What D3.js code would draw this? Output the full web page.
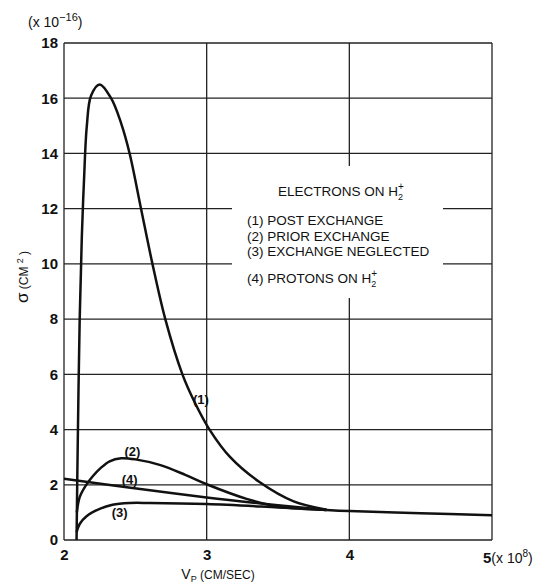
<!DOCTYPE html>
<html>
<head>
<meta charset="utf-8">
<script src="https://cdn.jsdelivr.net/npm/d3@7"></script>
<style>
body { margin:0; background:#fff; }
text { font-family:"Liberation Sans", Arial, sans-serif; fill:#111; }
</style>
</head>
<body>
<div id="chart"></div>
<script>
var width = 536;
var height = 583;

// velocity (x 10^8 cm/sec) and cross section (x 10^-16 cm^2)
var postX  = [2.088,2.095,2.11,2.125,2.14,2.16,2.19,2.25,2.33,2.40,2.46,2.54,2.62,2.71,2.83,2.915,3.02,3.165,3.37,3.61,3.84];
var postY  = [0,3,8,11,13,15,16.1,16.5,16.0,15.1,14,12,10,8,6,5,4,3,2.1,1.40,1.10];
var priorX = [2.09,2.11,2.15,2.20,2.26,2.32,2.40,2.50,2.67,2.85,3.0,3.28,3.51,3.84];
var priorY = [1.0,1.55,1.95,2.3,2.62,2.85,2.96,2.92,2.72,2.36,2.02,1.49,1.20,1.09];
var neglX  = [2.088,2.11,2.16,2.25,2.34,2.46,2.6,3.0,3.5,3.84];
var neglY  = [0.28,0.58,0.87,1.13,1.28,1.34,1.34,1.30,1.18,1.09];
var protX  = [2.0,2.44,3.0,3.5,3.84];
var protY  = [2.22,1.91,1.54,1.26,1.09];
var tailX  = [3.84,4.0,4.5,5.0];
var tailY  = [1.09,1.05,0.97,0.90];

var xTicks = [2,3,4,5];
var yTicks = [0,2,4,6,8,10,12,14,16,18];
var curveLabels = ["(1)","(2)","(3)","(4)"];
var curveLabelX = [2.96,2.48,2.39,2.46];
var curveLabelY = [5.1,3.22,1.01,2.21];
var legendTitle = "ELECTRONS ON H";
var legendLines = ["(1) POST EXCHANGE","(2) PRIOR EXCHANGE","(3) EXCHANGE NEGLECTED"];
var legendLast = "(4) PROTONS ON H";

var svg = d3.select("#chart").append("svg").attr("width",width).attr("height",height);

var x = d3.scaleLinear().domain([2,5]).range([64,492]);
var y = d3.scaleLinear().domain([0,18]).range([540,43]);

// grid
var grid = svg.append("g").attr("stroke","#222").attr("stroke-width",1.3);
grid.selectAll("line.h").data(yTicks).enter().append("line")
	.attr("x1",x(2)).attr("x2",x(5))
	.attr("y1",function(d){return y(d);}).attr("y2",function(d){return y(d);});
grid.selectAll("line.v").data(xTicks).enter().append("line")
	.attr("x1",function(d){return x(d);}).attr("x2",function(d){return x(d);})
	.attr("y1",y(0)).attr("y2",y(18));

// blank the grid behind the legend
svg.append("rect").attr("x",232).attr("y",166).attr("width",211).attr("height",132).attr("fill","#fff");

// tick labels
var yAxis = d3.axisLeft(y).tickValues(yTicks).tickSize(0).tickPadding(6).tickFormat(d3.format("d"));
var gy = svg.append("g").attr("transform","translate("+x(2)+",0)").call(yAxis);
gy.select(".domain").remove();
gy.selectAll("text").attr("font-size",15).attr("font-weight","bold").style("font-family","Liberation Sans");

var xAxis = d3.axisBottom(x).tickValues(xTicks).tickSize(0).tickPadding(9)
	.tickFormat(function(d){ return d==5 ? "" : d; });
var gx = svg.append("g").attr("transform","translate(0,"+y(0)+")").call(xAxis);
gx.select(".domain").remove();
gx.selectAll("text").attr("font-size",15).attr("font-weight","bold").style("font-family","Liberation Sans");

var t5 = svg.append("text").attr("x",x(5)-9).attr("y",563).attr("font-size",14);
t5.append("tspan").attr("font-weight","bold").attr("font-size",15).text("5");
t5.append("tspan").attr("font-size",14).text("(x 10");
t5.append("tspan").attr("font-size",10).attr("dy",-6).text("8");
t5.append("tspan").attr("font-size",14).attr("dy",6).text(")");

var exp = svg.append("text").attr("x",28).attr("y",27).attr("font-size",14);
exp.append("tspan").text("(x 10");
exp.append("tspan").attr("font-size",11).attr("dy",-6).text("\u221216");
exp.append("tspan").attr("dy",6).text(")");

var xl = svg.append("text").attr("x",218).attr("y",579).attr("text-anchor","middle").attr("font-size",12);
xl.append("tspan").attr("font-size",14).text("V");
xl.append("tspan").attr("font-size",9).attr("dy",3).text("P");
xl.append("tspan").attr("dy",-3).text(" (CM/SEC)");

var yl = svg.append("text").attr("transform","translate(28,277) rotate(-90)").attr("text-anchor","middle").attr("font-size",12);
yl.append("tspan").attr("font-size",17).text("\u03c3");
yl.append("tspan").text(" (CM ");
yl.append("tspan").attr("font-size",9).attr("dy",-5).text("2");
yl.append("tspan").attr("dy",5).text(" )");

// curves
var line = d3.line()
	.x(function(d){return x(d[0]);})
	.y(function(d){return y(d[1]);})
	.curve(d3.curveCatmullRom.alpha(0.5));

function pairs(xs,ys){ return xs.map(function(v,i){ return [v,ys[i]]; }); }
var series = [pairs(postX,postY),pairs(priorX,priorY),pairs(neglX,neglY),pairs(protX,protY),pairs(tailX,tailY)];

svg.append("g").selectAll("path").data(series).enter().append("path")
	.attr("d",line)
	.attr("fill","none")
	.attr("stroke","#111")
	.attr("stroke-width",2.5)
	.attr("stroke-linejoin","round");

svg.append("g").selectAll("text").data(curveLabels).enter().append("text")
	.attr("x",function(d,i){return x(curveLabelX[i]);})
	.attr("y",function(d,i){return y(curveLabelY[i]);})
	.attr("dy","0.35em")
	.attr("text-anchor","middle")
	.attr("font-size",13)
	.attr("font-weight","bold")
	.text(function(d){return d;});

// legend
function withH(txt,xp,yp){
	var t = svg.append("text").attr("x",xp).attr("y",yp).attr("font-size",13.5).text(txt);
	var w = t.node().getComputedTextLength();
	svg.append("text").attr("x",xp+w).attr("y",yp-6).attr("font-size",10).text("+");
	svg.append("text").attr("x",xp+w).attr("y",yp+4).attr("font-size",9).text("2");
}
withH(legendTitle,278,196);
svg.append("g").selectAll("text").data(legendLines).enter().append("text")
	.attr("x",247)
	.attr("y",function(d,i){return 225+i*15.5;})
	.attr("font-size",13.5)
	.text(function(d){return d;});
withH(legendLast,247,283);
</script>
</body>
</html>
